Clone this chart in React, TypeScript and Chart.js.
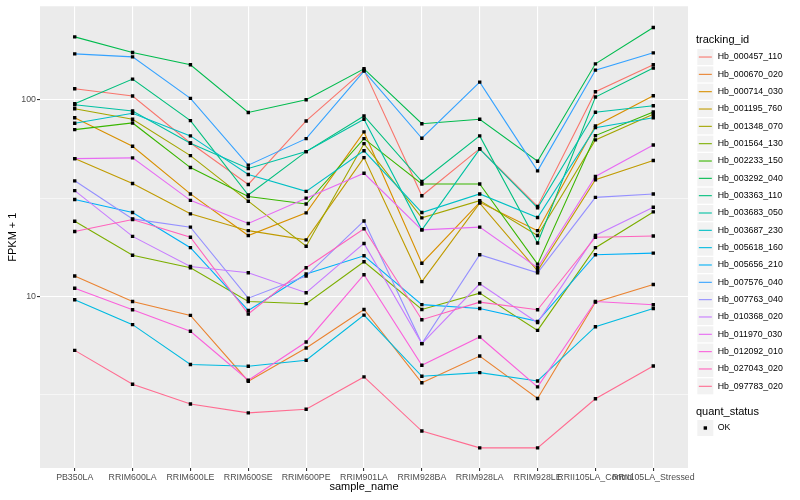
import React, { useEffect, useRef } from 'react';
import { Chart, registerables } from 'chart.js';

Chart.register(...registerables);

const categories = [
  'PB350LA', 'RRIM600LA', 'RRIM600LE', 'RRIM600SE', 'RRIM600PE', 'RRIM901LA',
  'RRIM928BA', 'RRIM928LA', 'RRIM928LE', 'RRII105LA_Control', 'RRII105LA_Stressed',
];

const trackingIds = [
  'Hb_000457_110', 'Hb_000670_020', 'Hb_000714_030', 'Hb_001195_760', 'Hb_001348_070',
  'Hb_001564_130', 'Hb_002233_150', 'Hb_003292_040', 'Hb_003363_110', 'Hb_003683_050',
  'Hb_003687_230', 'Hb_005618_160', 'Hb_005656_210', 'Hb_007576_040', 'Hb_007763_040',
  'Hb_010368_020', 'Hb_011970_030', 'Hb_012092_010', 'Hb_027043_020', 'Hb_097783_020',
];

const seriesColors = [
  '#F8766D', '#EA8331', '#D89000', '#C09B00', '#A3A500', '#7CAE00', '#39B600', '#00BB4E',
  '#00BF7D', '#00C1A3', '#00BFC4', '#00BAE0', '#00B0F6', '#35A2FF', '#9590FF', '#C77CFF',
  '#E76BF3', '#FA62DB', '#FF62BC', '#FF6C91',
];

// FPKM + 1 per sample, in category order
const hb000457_110 = [113.7, 104.4, 60.3, 37.1, 78.0, 141.4, 32.5, 56.4, 28.7, 109.8, 150.5];
const hb000670_020 = [12.7, 9.43, 8.01, 3.71, 5.47, 8.59, 3.64, 4.98, 3.03, 9.36, 11.5];
const hb000714_030 = [81.0, 58.0, 33.2, 20.4, 26.6, 68.6, 14.75, 30.1, 21.6, 73.6, 104.8];
const hb001195_760 = [50.2, 37.5, 26.3, 21.6, 19.4, 50.8, 11.9, 29.8, 13.5, 39.2, 49.1];
const hb001348_070 = [90.0, 79.6, 52.0, 30.5, 18.0, 59.8, 25.1, 30.7, 20.4, 62.5, 84.3];
const hb001564_130 = [24.1, 16.2, 14.0, 9.43, 9.19, 15.0, 8.59, 10.4, 6.72, 17.7, 26.9];
const hb002233_150 = [70.5, 76.2, 45.2, 32.2, 29.5, 63.4, 37.3, 37.3, 14.6, 65.7, 86.6];
const hb003292_040 = [208.6, 173.9, 150.5, 86.1, 100.0, 143.6, 75.5, 79.6, 48.7, 152.2, 232.7];
const hb003363_110 = [95.4, 127.3, 78.3, 32.8, 54.5, 82.7, 38.4, 65.5, 18.7, 103.2, 144.8];
const hb003683_050 = [94.3, 87.7, 60.1, 44.7, 54.5, 79.6, 21.8, 56.1, 28.2, 86.3, 93.2];
const hb003687_230 = [75.9, 85.3, 65.5, 41.7, 34.2, 55.0, 26.7, 33.2, 25.2, 72.1, 81.0];
const hb005618_160 = [9.62, 7.19, 4.51, 4.42, 4.74, 8.04, 3.93, 4.10, 3.72, 7.02, 8.69];
const hb005656_210 = [31.1, 26.7, 17.7, 8.49, 13.0, 16.1, 9.09, 8.69, 7.47, 16.3, 16.6];
const hb007576_040 = [171.1, 165.2, 101.6, 46.5, 63.4, 139.8, 63.7, 122.9, 43.5, 141.4, 173.1];
const hb007763_040 = [38.7, 24.8, 22.5, 9.8, 12.7, 24.2, 5.76, 16.3, 13.2, 31.9, 33.2];
const hb010368_020 = [34.5, 20.2, 14.2, 13.2, 10.45, 18.6, 5.76, 11.6, 7.36, 20.4, 28.4];
const hb011970_030 = [50.2, 50.6, 30.8, 23.5, 31.6, 42.3, 21.8, 22.5, 14.0, 40.7, 58.9];
const hb012092_010 = [11.0, 8.56, 6.65, 3.75, 5.87, 12.9, 4.47, 6.22, 3.47, 9.43, 9.08];
const hb027043_020 = [21.4, 24.6, 20.0, 8.14, 14.0, 22.1, 7.62, 9.36, 8.56, 20.0, 20.3];
const hb097783_020 = [5.32, 3.58, 2.84, 2.56, 2.67, 3.9, 2.07, 1.7, 1.7, 3.02, 4.43];

const seriesValues = [
  hb000457_110, hb000670_020, hb000714_030, hb001195_760, hb001348_070,
  hb001564_130, hb002233_150, hb003292_040, hb003363_110, hb003683_050,
  hb003687_230, hb005618_160, hb005656_210, hb007576_040, hb007763_040,
  hb010368_020, hb011970_030, hb012092_010, hb027043_020, hb097783_020,
];

const yMajorTicks = [10, 100];
const yMinorTicks = [3.16228, 31.6228];
const quantStatus = ['OK'];

const FONT = "'Liberation Sans', Arial, Helvetica, sans-serif";

export default function App() {
  const ref = useRef<HTMLCanvasElement>(null);

  useEffect(() => {
    const canvas = ref.current;
    if (!canvas) return;
    Chart.defaults.font.family = FONT;
    const N = seriesValues.length;
    const isMajor = (v: any) =>
      typeof v === 'number' && yMajorTicks.some((m) => Math.abs(m - v) < 1e-6 * m);

    const lineDatasets: any[] = seriesValues.map((vals, i) => ({
      label: trackingIds[i],
      data: vals.map((v, j) => ({ x: j, y: v })),
      borderColor: seriesColors[i],
      backgroundColor: seriesColors[i],
      borderWidth: 1.1,
      pointRadius: 0,
      pointHoverRadius: 0,
      tension: 0,
      fill: false,
      order: N - i,
    }));
    const pointDataset: any = {
      label: 'quant_status: ' + quantStatus[0],
      data: seriesValues.flatMap((vals) => vals.map((v, j) => ({ x: j, y: v }))),
      showLine: false,
      pointStyle: 'rect',
      pointRadius: 2.4,
      pointHoverRadius: 2.4,
      pointBackgroundColor: '#000000',
      pointBorderWidth: 0,
      borderColor: '#000000',
      backgroundColor: '#000000',
      order: 0,
    };

    const panelBg = {
      id: 'panelBg',
      beforeDraw(chart: any) {
        const { ctx, chartArea: a } = chart;
        ctx.save();
        ctx.fillStyle = '#EBEBEB';
        ctx.fillRect(a.left, a.top, a.right - a.left, a.bottom - a.top);
        ctx.restore();
      },
    };

    const legendExtras = {
      id: 'legendExtras',
      afterDraw(chart: any) {
        const lg = chart.legend;
        if (!lg || !lg.legendHitBoxes) return;
        const ctx = chart.ctx;
        ctx.save();
        lg.legendItems.forEach((item: any, k: number) => {
          const hb = lg.legendHitBoxes[k];
          if (!hb) return;
          ctx.strokeStyle = seriesColors[item.datasetIndex];
          ctx.lineWidth = 1.1;
          ctx.beginPath();
          ctx.moveTo(hb.left + 1.5, hb.top + 8);
          ctx.lineTo(hb.left + 14.5, hb.top + 8);
          ctx.stroke();
        });
        // second legend: quant_status
        const tx = lg.left;
        const bx = lg.left + 1.33;
        ctx.fillStyle = '#000000';
        ctx.textAlign = 'left';
        ctx.textBaseline = 'middle';
        ctx.font = `11px ${FONT}`;
        ctx.fillText('quant_status', tx, 412);
        ctx.fillStyle = '#F2F2F2';
        ctx.fillRect(bx, 420, 16, 16);
        ctx.fillStyle = '#000000';
        ctx.fillRect(bx + 8 - 1.7, 428 - 1.7, 3.4, 3.4);
        ctx.font = `8.8px ${FONT}`;
        ctx.fillText(quantStatus[0], bx + 16 + 4.4, 428);
        ctx.restore();
      },
    };

    const chart = new Chart(canvas, {
      type: 'line',
      data: { datasets: [...lineDatasets, pointDataset] },
      plugins: [panelBg, legendExtras],
      options: {
        responsive: false,
        animation: false,
        events: [],
        layout: { padding: { top: 5, right: 8, bottom: 0, left: 0 } },
        plugins: {
          tooltip: { enabled: false },
          legend: {
            position: 'right',
            align: 'start',
            maxWidth: 96,
            title: {
              display: true,
              text: 'tracking_id',
              position: 'start',
              color: '#000000',
              font: { size: 11, family: FONT, lineHeight: 1.2 },
              padding: { top: 29, bottom: 0.5 },
            },
            labels: {
              boxWidth: 16,
              boxHeight: 16,
              padding: 1.33,
              color: '#000000',
              font: { size: 8.8, family: FONT },
              generateLabels: (c: any) =>
                c.data.datasets.slice(0, N).map((ds: any, i: number) => ({
                  text: ds.label,
                  fillStyle: '#F2F2F2',
                  strokeStyle: 'rgba(0,0,0,0)',
                  lineWidth: 0,
                  hidden: false,
                  datasetIndex: i,
                  fontColor: '#000000',
                })),
              sort: (a: any, b: any) => a.datasetIndex - b.datasetIndex,
            },
          } as any,
        },
        scales: {
          x: {
            type: 'linear',
            min: -0.6,
            max: 10.6,
            bounds: 'data',
            afterBuildTicks: (s: any) => {
              s.ticks = categories.map((_, i) => ({ value: i }));
            },
            afterFit: (s: any) => {
              s.height = 32;
            },
            ticks: {
              autoSkip: false,
              maxRotation: 0,
              minRotation: 0,
              padding: 1.5,
              color: '#4D4D4D',
              font: { size: 8.8, family: FONT },
              callback: (v: any) => categories[v as number] ?? '',
            },
            grid: {
              color: '#FFFFFF',
              lineWidth: 1.1,
              tickColor: '#333333',
              tickLength: 3,
              tickWidth: 1.1,
            },
            border: { display: false },
            title: {
              display: true,
              text: 'sample_name',
              color: '#000000',
              font: { size: 11, family: FONT },
              padding: { top: 0, bottom: 6 },
            },
          },
          y: {
            type: 'logarithmic',
            min: 1.343,
            max: 298.5,
            bounds: 'data',
            afterBuildTicks: (s: any) => {
              s.ticks = [...yMinorTicks, ...yMajorTicks]
                .sort((a, b) => a - b)
                .map((v) => ({ value: v }));
            },
            afterFit: (s: any) => {
              s.width = 40;
            },
            ticks: {
              autoSkip: false,
              padding: 1,
              color: '#4D4D4D',
              font: { size: 8.8, family: FONT },
              callback: (v: any) => (isMajor(v) ? String(v) : ''),
            },
            grid: {
              color: '#FFFFFF',
              lineWidth: (ctx: any) => (isMajor(ctx.tick?.value) ? 1.1 : 0.55),
              tickColor: (ctx: any) => (isMajor(ctx.tick?.value) ? '#333333' : 'rgba(0,0,0,0)'),
              tickLength: 3,
              tickWidth: 1.1,
            },
            border: { display: false },
            title: {
              display: true,
              text: 'FPKM + 1',
              color: '#000000',
              font: { size: 11, family: FONT },
              padding: { top: 6, bottom: 0 },
            },
          },
          spacer: {
            type: 'linear',
            axis: 'y',
            position: 'right',
            min: 0,
            max: 1,
            display: true,
            grid: { display: false },
            ticks: { display: false },
            border: { display: false },
            afterFit: (s: any) => {
              s.width = 8;
            },
          },
        } as any,
      },
    });

    return () => {
      chart.destroy();
    };
  }, []);

  return (
    <div style={{ position: 'fixed', left: 0, top: 0, width: 800, height: 500, background: '#FFFFFF' }}>
      <canvas ref={ref} width={800} height={500} style={{ width: 800, height: 500, display: 'block' }} />
    </div>
  );
}
